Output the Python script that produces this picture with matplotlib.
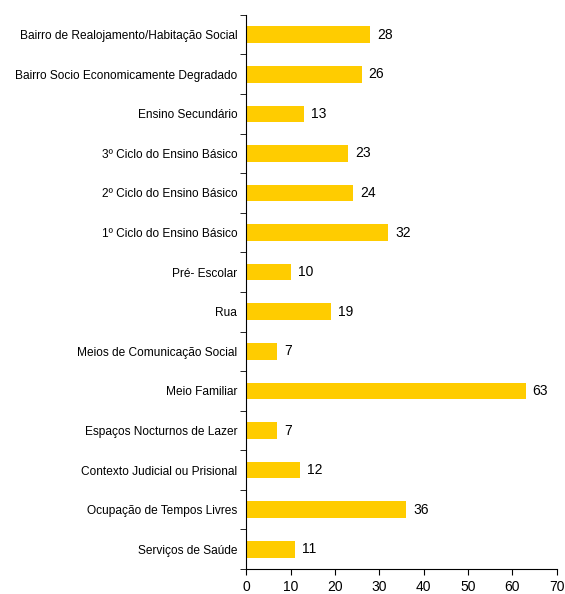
import numpy as np
import matplotlib.pyplot as plt

plt.rcParams['font.family'] = ['Liberation Sans', 'DejaVu Sans']

categories = [
    'Bairro de Realojamento/Habitação Social',
    'Bairro Socio Economicamente Degradado',
    'Ensino Secundário',
    '3º Ciclo do Ensino Básico',
    '2º Ciclo do Ensino Básico',
    '1º Ciclo do Ensino Básico',
    'Pré- Escolar',
    'Rua',
    'Meios de Comunicação Social',
    'Meio Familiar',
    'Espaços Nocturnos de Lazer',
    'Contexto Judicial ou Prisional',
    'Ocupação de Tempos Livres',
    'Serviços de Saúde',
]
values = [28, 26, 13, 23, 24, 32, 10, 19, 7, 63, 7, 12, 36, 11]

fig = plt.figure(figsize=(5.65, 5.94), dpi=100)
ax = fig.add_axes([0.436, 0.042, 0.549, 0.933])

y = np.arange(len(categories))
ax.barh(y, values, height=0.42, color='#FFCC00')
for yi, v in zip(y, values):
    ax.text(v + 1.6, yi, str(v), va='center', ha='left', fontsize=10)

ax.set_xlim(0, 70)
ax.set_ylim(len(categories) - 0.5, -0.5)
ax.set_xticks(range(0, 71, 10))
ax.set_yticks(y)
ax.set_yticklabels(categories, fontsize=8.6)
ax.set_yticks(np.arange(-0.5, len(categories)), minor=True)
ax.tick_params(axis='y', which='major', length=0, pad=6.5)
ax.tick_params(axis='y', which='minor', length=4, direction='out')
ax.tick_params(axis='x', length=4, direction='out', labelsize=10, pad=4)

for side in ['top', 'right']:
    ax.spines[side].set_visible(False)

plt.savefig('out.png', dpi=100)
